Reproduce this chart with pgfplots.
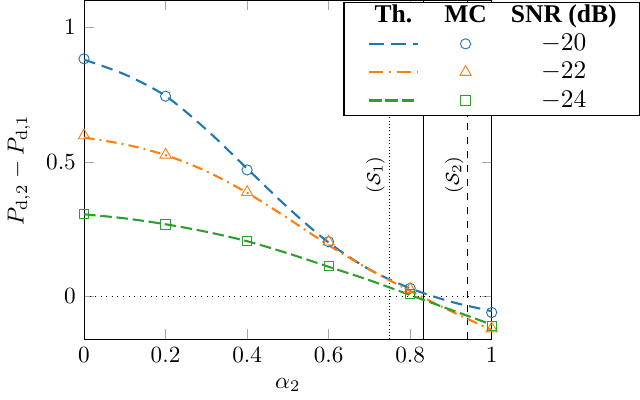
\documentclass[border=0pt]{standalone}
\usepackage{fontspec}
\newfontfamily\tnr{Liberation Serif}
\usepackage{pgfplots}
\pgfplotsset{compat=1.18}
\usepackage{array}
\definecolor{c1}{RGB}{31,119,180}
\definecolor{c2}{RGB}{255,127,14}
\definecolor{c3}{RGB}{44,160,44}

\begin{document}
\begin{tikzpicture}
\begin{axis}[
  name=ax,
  scale only axis, width=175.6pt, height=146pt,
  xmin=0, xmax=1, ymin=-0.16, ymax=1.1,
  xtick={0,0.2,0.4,0.6,0.8,1}, ytick={0,0.5,1},
  xlabel={$\alpha_2$}, ylabel={$P_{\mathrm{d},2}-P_{\mathrm{d},1}$},
  major tick style={black!35},
  clip=false,
]
% reference lines
\addplot[black, dotted, thin, forget plot] coordinates {(0,0) (1,0)};
\addplot[black, densely dotted, forget plot] coordinates {(0.75,-0.16) (0.75,1.1)};
\addplot[black, forget plot] coordinates {(0.832,-0.16) (0.832,1.1)};
\addplot[black, dashed, forget plot] coordinates {(0.94,-0.16) (0.94,1.1)};
\node[rotate=90, font=\footnotesize] at (axis cs:0.715,0.451) {$(\mathcal{S}_1)$};
\node[rotate=90, font=\footnotesize] at (axis cs:0.908,0.451) {$(\mathcal{S}_2)$};

% theory
\addplot[c1, line width=0.9pt, smooth, dash pattern=on 5pt off 3pt] coordinates {
  (0,0.88)(0.1,0.825)(0.2,0.745)(0.3,0.62)(0.4,0.475)(0.5,0.33)(0.6,0.2)(0.7,0.1)(0.8,0.03)(0.9,-0.02)(1,-0.055)};
\addplot[c2, line width=0.9pt, smooth, dash pattern=on 4.5pt off 2.2pt on 0.8pt off 2.2pt] coordinates {
  (0,0.59)(0.1,0.565)(0.2,0.525)(0.3,0.465)(0.4,0.385)(0.5,0.29)(0.6,0.19)(0.7,0.1)(0.8,0.02)(0.9,-0.055)(1,-0.125)};
\addplot[c3, line width=0.9pt, smooth, dash pattern=on 5pt off 2pt] coordinates {
  (0,0.305)(0.1,0.29)(0.2,0.268)(0.3,0.24)(0.4,0.205)(0.5,0.16)(0.6,0.11)(0.7,0.06)(0.8,0.005)(0.9,-0.05)(1,-0.105)};

% Monte Carlo
\addplot[c1, only marks, mark=o, mark size=2.2pt] coordinates {
  (0,0.883)(0.2,0.744)(0.4,0.47)(0.6,0.203)(0.8,0.03)(1,-0.06)};
\addplot[c2, only marks, mark=triangle, mark size=2.8pt] coordinates {
  (0,0.598)(0.2,0.526)(0.4,0.387)(0.6,0.203)(0.8,0.026)(1,-0.12)};
\addplot[c3, only marks, mark=square, mark size=2pt] coordinates {
  (0,0.305)(0.2,0.267)(0.4,0.207)(0.6,0.113)(0.8,0.008)(1,-0.109)};
\end{axis}

\node[anchor=north west, draw=black, fill=white, inner sep=0pt, line width=0.6pt,
      font=\fontsize{11}{12.2}\selectfont]
  at ([xshift=111.7pt,yshift=-0.5pt]ax.north west) {%
  \begin{tabular}{@{}>{\centering}p{42.6pt}@{}>{\centering}p{19.5pt}@{}>{\centering\arraybackslash}p{65.1pt}@{}}
  {\tnr\bfseries Th.} & {\tnr\bfseries MC} & {\tnr\bfseries SNR (dB)}\\
  \tikz[baseline=-0.6ex]\draw[c1, line width=0.9pt, dash pattern=on 6.5pt off 3pt] (0,0)--(21pt,0); &
  \tikz[baseline=-0.6ex]\path plot[mark=o, mark size=2.2pt, mark options={c1}] coordinates {(0,0)}; & $-20$\\
  \tikz[baseline=-0.6ex]\draw[c2, line width=0.9pt, dash pattern=on 6pt off 2.5pt on 1pt off 2.5pt] (0,0)--(21pt,0); &
  \tikz[baseline=-0.6ex]\path plot[mark=triangle, mark size=2.8pt, mark options={c2}] coordinates {(0,0)}; & $-22$\\
  \tikz[baseline=-0.6ex]\draw[c3, line width=0.9pt, dash pattern=on 5.5pt off 1.5pt] (0,0)--(21pt,0); &
  \tikz[baseline=-0.6ex]\path plot[mark=square, mark size=2pt, mark options={c3}] coordinates {(0,0)}; & $-24$
  \end{tabular}};
\end{tikzpicture}
\end{document}
